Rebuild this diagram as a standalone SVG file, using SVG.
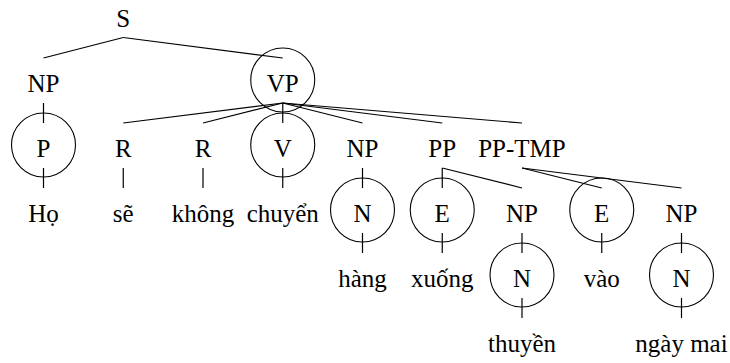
<svg xmlns="http://www.w3.org/2000/svg" width="730" height="363" viewBox="0 0 730 363" font-family="Liberation Serif, Tinos, DejaVu Serif, serif">
<style>
text{font-size:25px;fill:#000;text-anchor:middle}
.c{fill:none;stroke:#000;stroke-width:1.1}
#edges line{stroke:#000;stroke-width:1.2}
</style>
<rect width="730" height="363" fill="#fff"/>
<g id="edges">
<line x1="123.25" y1="37.5" x2="43.5" y2="58"/>
<line x1="123.25" y1="37.5" x2="282.75" y2="58"/>
<line x1="43.5" y1="103" x2="43.5" y2="123"/>
<line x1="282.75" y1="103" x2="123.25" y2="123"/>
<line x1="282.75" y1="103" x2="203" y2="123"/>
<line x1="282.75" y1="103" x2="282.75" y2="123"/>
<line x1="282.75" y1="103" x2="362.5" y2="123"/>
<line x1="282.75" y1="103" x2="442.25" y2="123"/>
<line x1="282.75" y1="103" x2="522" y2="123"/>
<line x1="43.5" y1="168" x2="43.5" y2="188"/>
<line x1="123.25" y1="168" x2="123.25" y2="188"/>
<line x1="203" y1="168" x2="203" y2="188"/>
<line x1="282.75" y1="168" x2="282.75" y2="188"/>
<line x1="362.5" y1="168" x2="362.5" y2="188"/>
<line x1="442.25" y1="168" x2="442.25" y2="188"/>
<line x1="442.25" y1="168" x2="522" y2="188"/>
<line x1="522" y1="168" x2="601.75" y2="188"/>
<line x1="522" y1="168" x2="681.5" y2="188"/>
<line x1="362.5" y1="233" x2="362.5" y2="253"/>
<line x1="442.25" y1="233" x2="442.25" y2="253"/>
<line x1="522" y1="233" x2="522" y2="253"/>
<line x1="601.75" y1="233" x2="601.75" y2="253"/>
<line x1="681.5" y1="233" x2="681.5" y2="253"/>
<line x1="522" y1="298" x2="522" y2="318"/>
<line x1="681.5" y1="298" x2="681.5" y2="318"/>
</g>
<g id="n-S"><text x="123.25" y="27">S</text></g>
<g id="n-NP1"><text x="43.5" y="92">NP</text></g>
<g id="n-VP"><circle class="c" cx="282.75" cy="80" r="32"/><text x="282.75" y="92">VP</text></g>
<g id="n-P"><circle class="c" cx="43.5" cy="145" r="32"/><text x="43.5" y="157">P</text></g>
<g id="n-R1"><text x="123.25" y="157">R</text></g>
<g id="n-R2"><text x="203" y="157">R</text></g>
<g id="n-V"><circle class="c" cx="282.75" cy="145" r="32"/><text x="282.75" y="157">V</text></g>
<g id="n-NP2"><text x="362.5" y="157">NP</text></g>
<g id="n-PP"><text x="442.25" y="157">PP</text></g>
<g id="n-PPTMP"><text x="522" y="157">PP-TMP</text></g>
<g id="n-Ho"><text x="43.5" y="222">Họ</text></g>
<g id="n-se"><text x="123.25" y="222">sẽ</text></g>
<g id="n-khong"><text x="203" y="222">không</text></g>
<g id="n-chuyen"><text x="282.75" y="222">chuyển</text></g>
<g id="n-N1"><circle class="c" cx="362.5" cy="210" r="32"/><text x="362.5" y="222">N</text></g>
<g id="n-E1"><circle class="c" cx="442.25" cy="210" r="32"/><text x="442.25" y="222">E</text></g>
<g id="n-NP3"><text x="522" y="222">NP</text></g>
<g id="n-E2"><circle class="c" cx="601.75" cy="210" r="32"/><text x="601.75" y="222">E</text></g>
<g id="n-NP4"><text x="681.5" y="222">NP</text></g>
<g id="n-hang"><text x="362.5" y="287">hàng</text></g>
<g id="n-xuong"><text x="442.25" y="287">xuống</text></g>
<g id="n-N2"><circle class="c" cx="522" cy="275" r="32"/><text x="522" y="287">N</text></g>
<g id="n-vao"><text x="601.75" y="287">vào</text></g>
<g id="n-N3"><circle class="c" cx="681.5" cy="275" r="32"/><text x="681.5" y="287">N</text></g>
<g id="n-thuyen"><text x="522" y="352">thuyền</text></g>
<g id="n-ngaymai"><text x="681.5" y="352">ngày mai</text></g>
</svg>
